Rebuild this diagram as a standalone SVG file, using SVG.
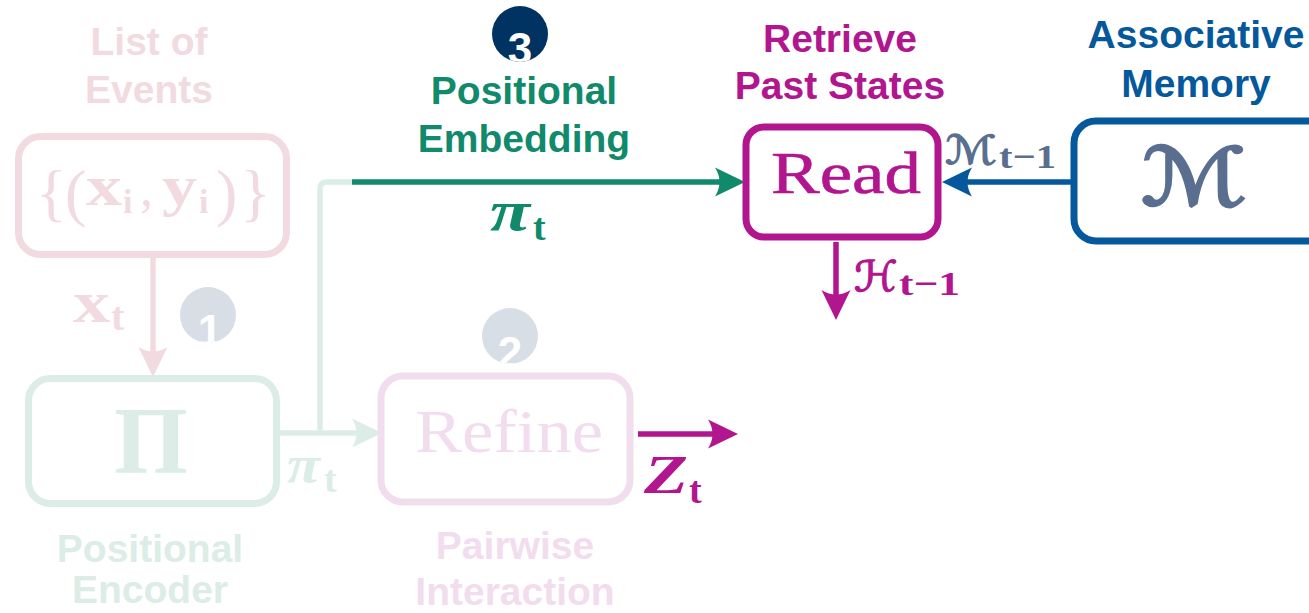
<svg xmlns="http://www.w3.org/2000/svg" width="1309" height="613" viewBox="0 0 1309 613">
<style>
.lbl{font-family:"Liberation Sans",Arial,sans-serif;font-weight:bold;font-size:39px;text-anchor:middle}
.m{font-family:"Liberation Serif","Times New Roman",serif}
.b{font-weight:bold}
.bi{font-weight:bold;font-style:italic}
.cal{font-family:"DejaVu Serif","DejaVu Sans",serif}
.box{fill:#fff;stroke-width:7}
.ln{fill:none;stroke-width:5.5}
.num{font-family:"Liberation Sans",Arial,sans-serif;font-weight:bold;font-size:44px;fill:#fff;text-anchor:middle}
</style>
<defs>
  <path id="head" d="M0,0 L-30,-14.5 Q-21,0 -30,14.5 Z"/>
  <marker id="aPink" viewBox="-32 -16 34 32" markerWidth="34" markerHeight="32" refX="-22" refY="0" orient="auto" markerUnits="userSpaceOnUse"><use href="#head" fill="#f2dbe0"/></marker>
  <marker id="aMint" viewBox="-32 -16 34 32" markerWidth="34" markerHeight="32" refX="-22" refY="0" orient="auto" markerUnits="userSpaceOnUse"><use href="#head" fill="#dbede6"/></marker>
  <marker id="aTeal" viewBox="-32 -16 34 32" markerWidth="34" markerHeight="32" refX="-22" refY="0" orient="auto" markerUnits="userSpaceOnUse"><use href="#head" fill="#118a6c"/></marker>
  <marker id="aBlue" viewBox="-32 -16 34 32" markerWidth="34" markerHeight="32" refX="-22" refY="0" orient="auto" markerUnits="userSpaceOnUse"><use href="#head" fill="#04589b"/></marker>
  <marker id="aMag" viewBox="-32 -16 34 32" markerWidth="34" markerHeight="32" refX="-22" refY="0" orient="auto" markerUnits="userSpaceOnUse"><use href="#head" fill="#b1168e"/></marker>
  <clipPath id="c1"><circle cx="208" cy="315" r="28"/></clipPath>
  <clipPath id="c2"><circle cx="510" cy="336" r="28"/></clipPath>
  <clipPath id="c3"><circle cx="520" cy="34" r="28"/></clipPath>
</defs>

<!-- connectors -->
<g id="connectors">
  <path class="ln" stroke="#f2dbe0" d="M153,258 V355" marker-end="url(#aPink)"/>
  <path class="ln" stroke="#dbede6" d="M280,433 H360" marker-end="url(#aMint)"/>
  <path class="ln" stroke="#dbede6" d="M320,433 V189 Q320,182 327,182 H353"/>
  <path class="ln" stroke="#118a6c" d="M352,182 H723" marker-end="url(#aTeal)"/>
  <path class="ln" stroke="#04589b" d="M1072,182 H964" marker-end="url(#aBlue)"/>
  <path class="ln" stroke="#b1168e" d="M836,242 V298" marker-end="url(#aMag)"/>
  <path class="ln" stroke="#b1168e" d="M638,434 H716" marker-end="url(#aMag)"/>
  <!-- edge labels -->
  <g class="m b" fill="#f2dbe0">
    <text x="73" y="322" font-size="60" textLength="37" lengthAdjust="spacingAndGlyphs">x</text>
    <text x="111" y="330" font-size="40">t</text>
  </g>
  <g class="m" fill="#dbede6">
    <text class="bi" x="287" y="482" font-size="52" textLength="33" lengthAdjust="spacingAndGlyphs">π</text>
    <text class="b" x="324" y="492" font-size="38">t</text>
  </g>
  <g class="m" fill="#118a6c">
    <text class="bi" x="490" y="230" font-size="56" textLength="40" lengthAdjust="spacingAndGlyphs">π</text>
    <text class="b" x="533" y="240" font-size="38">t</text>
  </g>
  <g fill="#b1168e">
    <text class="m bi" x="644" y="493" font-size="54" textLength="44" lengthAdjust="spacingAndGlyphs">Z</text>
    <text class="m b" x="689" y="503" font-size="38">t</text>
  </g>
  <g fill="#b1168e">
    <text class="cal" x="854" y="291" font-size="42" stroke="#b1168e" stroke-width="1.2" textLength="44" lengthAdjust="spacingAndGlyphs">ℋ</text>
    <text class="m b" x="899" y="295" font-size="34" textLength="61" lengthAdjust="spacingAndGlyphs">t−1</text>
  </g>
  <g fill="#5a6e90">
    <text class="cal" x="945" y="164" font-size="40" stroke="#5a6e90" stroke-width="1.2" textLength="52" lengthAdjust="spacingAndGlyphs">ℳ</text>
    <text class="m b" x="999" y="168" font-size="34" textLength="57" lengthAdjust="spacingAndGlyphs">t−1</text>
  </g>
</g>

<!-- list of events -->
<g id="events">
  <text class="lbl" x="149" y="55" fill="#f2dbe0">List of</text>
  <text class="lbl" x="149" y="103" fill="#f2dbe0">Events</text>
  <rect class="box" x="18.5" y="136.5" width="268" height="118" rx="22" stroke="#f2dbe0"/>
  <g class="m" fill="#f2dbe0">
    <text x="36" y="214" font-size="64">{</text>
    <text x="65" y="214" font-size="64">(</text>
    <text class="b" x="86" y="205" font-size="58" textLength="36" lengthAdjust="spacingAndGlyphs">x</text>
    <text class="b" x="123" y="213" font-size="34">i</text>
    <text x="140" y="205" font-size="52">,</text>
    <text class="b" x="162" y="205" font-size="58" textLength="35" lengthAdjust="spacingAndGlyphs">y</text>
    <text class="b" x="199" y="213" font-size="34">i</text>
    <text x="216" y="214" font-size="64">)</text>
    <text x="240" y="214" font-size="64">}</text>
  </g>
</g>

<!-- positional encoder -->
<g id="encoder">
  <rect class="box" x="28.5" y="378.5" width="248" height="125" rx="22" stroke="#dbede6"/>
  <text class="m b" x="151" y="473" font-size="95" text-anchor="middle" fill="#dbede6">Π</text>
  <text class="lbl" x="150" y="562" fill="#dbede6">Positional</text>
  <text class="lbl" x="150" y="603" fill="#dbede6">Encoder</text>
</g>

<!-- pairwise interaction -->
<g id="refine">
  <rect class="box" x="381" y="376" width="249" height="126" rx="22" stroke="#f2ddee" stroke-width="6"/>
  <text class="m" x="415" y="452" font-size="62" textLength="188" lengthAdjust="spacingAndGlyphs" fill="#f2ddee">Refine</text>
  <text class="lbl" x="515" y="559" fill="#f2ddee">Pairwise</text>
  <text class="lbl" x="515" y="605" fill="#f2ddee">Interaction</text>
</g>

<!-- step markers -->
<g id="step1">
  <circle cx="208" cy="315" r="28" fill="#d7dee5"/>
  <text class="num" x="210" y="346" clip-path="url(#c1)">1</text>
</g>
<g id="step2">
  <circle cx="510" cy="336" r="28" fill="#d7dee5"/>
  <text class="num" x="510" y="368" clip-path="url(#c2)">2</text>
</g>
<g id="step3">
  <circle cx="520" cy="34" r="28" fill="#003362"/>
  <text class="num" x="520" y="64" clip-path="url(#c3)">3</text>
</g>

<!-- positional embedding -->
<g id="embedding">
  <text class="lbl" x="524" y="104" fill="#118a6c">Positional</text>
  <text class="lbl" x="524" y="152" fill="#118a6c">Embedding</text>
</g>

<!-- read -->
<g id="read">
  <text class="lbl" x="840" y="52" fill="#b1168e">Retrieve</text>
  <text class="lbl" x="840" y="99" fill="#b1168e">Past States</text>
  <rect class="box" x="746" y="127" width="192" height="110" rx="18" stroke="#b1168e" stroke-width="7.5"/>
  <text class="m" x="771" y="193" font-size="59" textLength="150" lengthAdjust="spacingAndGlyphs" fill="#b1168e" stroke="#b1168e" stroke-width="0.6">Read</text>
</g>

<!-- associative memory -->
<g id="memory">
  <text class="lbl" x="1196" y="48" fill="#04589b">Associative</text>
  <text class="lbl" x="1196" y="97" fill="#04589b">Memory</text>
  <rect class="box" x="1074" y="121" width="260" height="120" rx="22" stroke="#04589b" stroke-width="7.5"/>
  <text class="cal" x="1141" y="205" font-size="80" textLength="106" lengthAdjust="spacingAndGlyphs" fill="#5a6e90" stroke="#5a6e90" stroke-width="2.5">ℳ</text>
</g>
</svg>
